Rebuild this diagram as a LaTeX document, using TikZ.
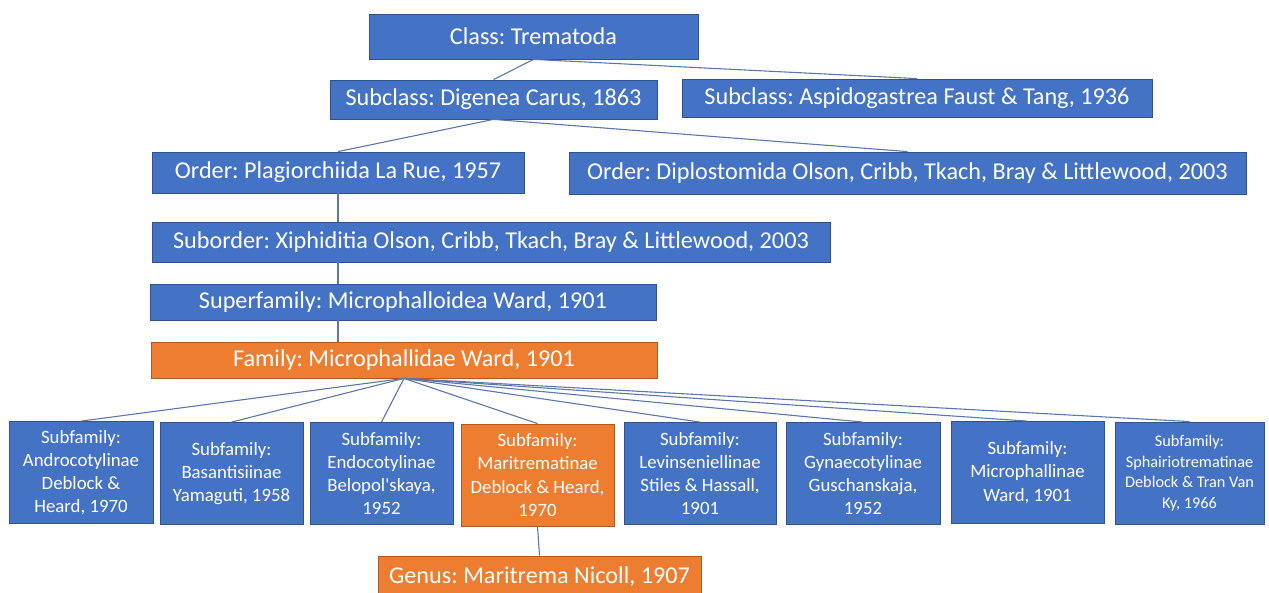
\documentclass[tikz,border=0pt]{standalone}
\usepackage{fontspec}
\setmainfont{Carlito}
\usepackage{tikz}
\usetikzlibrary{positioning, calc}
\definecolor{taxblue}     {RGB}{68, 114, 196}
\definecolor{taxblueln}   {RGB}{47,  82, 143}
\definecolor{taxorange}   {RGB}{237, 125, 49}
\definecolor{taxorangeln} {RGB}{174,  90, 33}
\definecolor{linkblue}    {RGB}{92, 118, 172}
\frenchspacing

\begin{document}
\begin{tikzpicture}[x=1pt,y=-1pt,
	taxbox/.style={draw=taxblueln, line width=0.8pt, fill=taxblue, text=white, inner sep=0pt,
		font=\fontsize{24.2}{29}\selectfont},
	hibox/.style={taxbox, draw=taxorangeln, fill=taxorange},
	subbox/.style={taxbox, align=center, font=\fontsize{18.8}{23.2}\selectfont},
	subhi/.style={subbox, draw=taxorangeln, fill=taxorange},
	link/.style={draw=linkblue, line width=1.1pt}]
	\useasboundingbox (0,0) rectangle (1269,592);
	\clip (0,0) rectangle (1269,592);
	% upper ranks
	\node[taxbox, minimum width=329, minimum height=45] (class)    at (533.5,36.5) {Class: Trematoda};
	\node[taxbox, minimum width=327, minimum height=39] (digenea)  at (493.5,99.5) {Subclass: Digenea Carus, 1863};
	\node[taxbox, minimum width=470, minimum height=38] (aspido)   at (917,98)     {Subclass: Aspidogastrea Faust \& Tang, 1936};
	\node[taxbox, minimum width=372, minimum height=41] (plag)     at (338,172.5)  {Order: Plagiorchiida La Rue, 1957};
	\node[taxbox, minimum width=677, minimum height=42] (diplo)    at (907.5,173)  {Order: Diplostomida Olson, Cribb, Tkach, Bray \& Littlewood, 2003};
	\node[taxbox, minimum width=678, minimum height=40] (suborder) at (491,242)    {Suborder: Xiphiditia Olson, Cribb, Tkach, Bray \& Littlewood, 2003};
	\node[taxbox, minimum width=506, minimum height=36] (superfam) at (403,302)    {Superfamily: Microphalloidea Ward, 1901};
	\node[hibox,  minimum width=506, minimum height=36] (family)   at (404,360)    {Family: Microphallidae Ward, 1901};
	% subfamilies
	\foreach \n/\cx/\w/\cy/\sty/\txt in {
		1/81/144/472.5/subbox/{Subfamily:\\Androcotylinae\\Deblock \&\\Heard, 1970},
		2/231.5/143/473.5/subbox/{Subfamily:\\Basantisiinae\\Yamaguti, 1958},
		3/381.5/143/473.5/subbox/{Subfamily:\\Endocotylinae\\Belopol\textquotesingle skaya,\\1952},
		4/537.5/153/475/subhi/{Subfamily:\\Maritrematinae\\Deblock \& Heard,\\1970},
		5/700/152/473.5/subbox/{Subfamily:\\Levinseniellinae\\Stiles \& Hassall,\\1901},
		6/863/154/473.5/subbox/{Subfamily:\\Gynaecotylinae\\Guschanskaja,\\1952},
		7/1027.5/153/472.5/subbox/{Subfamily:\\Microphallinae\\Ward, 1901}}{
		\node[\sty, minimum width=\w, minimum height=102] (sf\n) at (\cx,\cy) {\txt};
	}
	\node[subbox, minimum width=149, minimum height=102, font=\fontsize{16.3}{20.5}\selectfont] (sf8) at (1189.5,473)
		{Subfamily:\\Sphairiotrematinae\\Deblock \& Tran Van\\Ky, 1966};
	\node[hibox, minimum width=323, minimum height=42] (genus) at (539.5,577) {Genus: Maritrema Nicoll, 1907};
	% connectors
	\draw[link] (class.south) -- (digenea.north);
	\draw[link] (class.south) -- (aspido.north);
	\draw[link] (digenea.south) -- (plag.north);
	\draw[link] (digenea.south) -- (diplo.north);
	\draw[link] (plag.south) -- (plag.south |- suborder.north);
	\draw[link] (plag.south |- suborder.south) -- (plag.south |- superfam.north);
	\draw[link] (plag.south |- superfam.south) -- (plag.south |- family.north);
	\foreach \n in {1,...,8}{\draw[link] (family.south) -- (sf\n.north);}
	\draw[link] (sf4.south) -- (genus.north);
\end{tikzpicture}
\end{document}
